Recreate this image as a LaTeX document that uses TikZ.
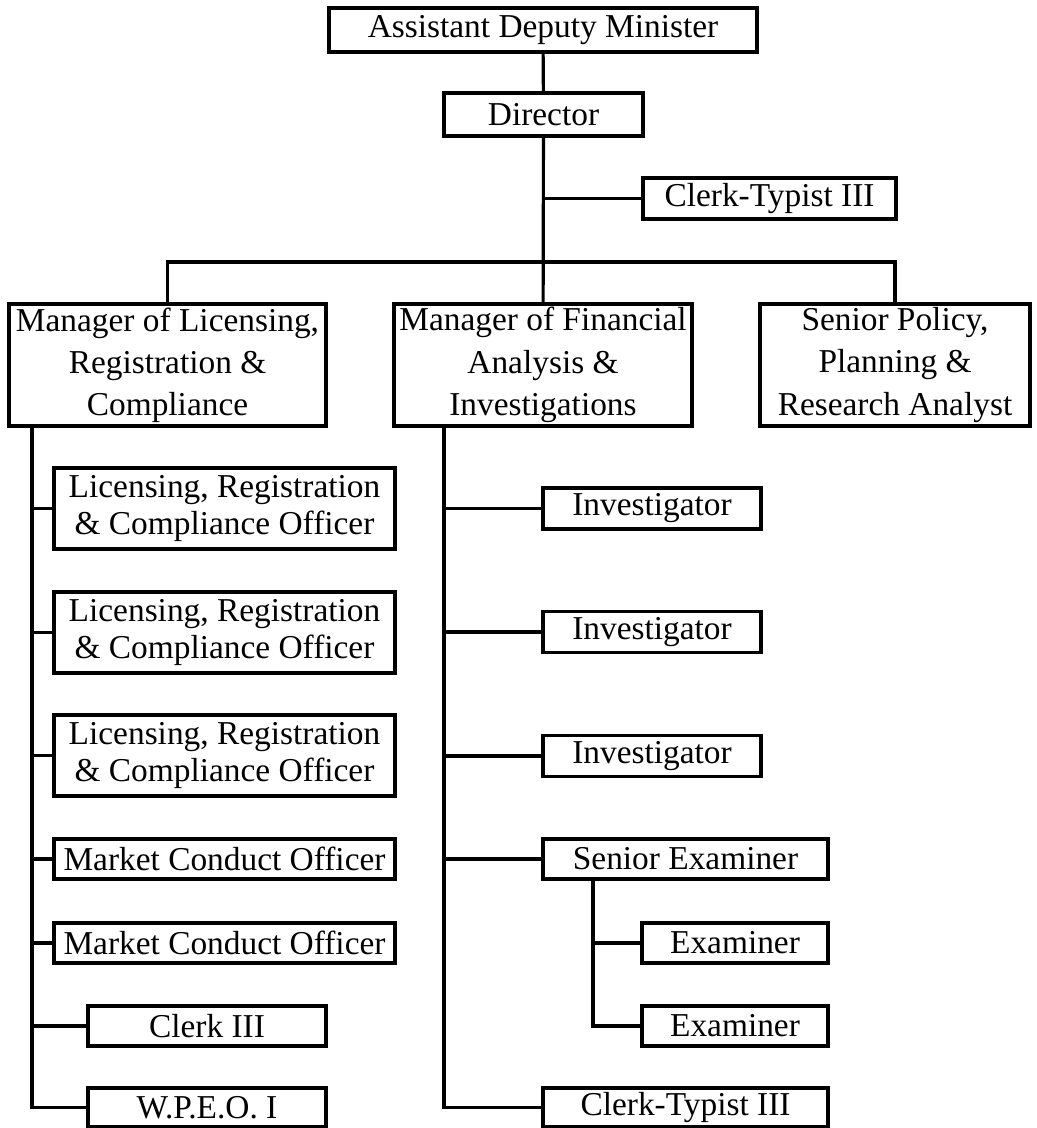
\documentclass[tikz,border=0pt]{standalone}
\usepackage{fontspec}
\setmainfont{Liberation Serif}
\usetikzlibrary{positioning}

\begin{document}
\begin{tikzpicture}[
    x=0.02cm, y=-0.02cm,
    post/.style={draw, line width=1.8pt, inner sep=0pt, align=center,
                 font=\fontsize{19}{21}\selectfont, minimum height=0.8cm},
    manager/.style={post, font=\fontsize{19}{24}\selectfont, minimum height=2.44cm},
    officer/.style={post, minimum width=6.82cm, minimum height=1.62cm},
    link/.style={draw, line width=1.8pt}
]

% Page frame
\useasboundingbox (0,0) rectangle (1036,1128);

% Top levels
\node[post, minimum width=8.56cm, minimum height=0.88cm] (adm) at (543,30) {Assistant Deputy Minister};
\node[post, minimum width=3.98cm, minimum height=0.86cm] (dir) at (543.5,114.5) {Director};
\node[post, minimum width=5.06cm, minimum height=0.82cm] (ct1) at (769.5,198.5) {Clerk-Typist III};

% Managers
\node[manager, minimum width=6.34cm] (mgrL) at (167.5,365) {Manager of Licensing,\\Registration \&\\Compliance};
\node[manager, minimum width=5.96cm] (mgrF) at (543,365) {Manager of Financial\\Analysis \&\\Investigations};
\node[manager, minimum width=5.4cm] (spa) at (895,365) {Senior Policy,\\Planning \&\\Research Analyst};

% Licensing branch
\node[officer] (lrc1) at (224.5,508.5) {Licensing, Registration\\\& Compliance Officer};
\node[officer] (lrc2) at (224.5,632.5) {Licensing, Registration\\\& Compliance Officer};
\node[officer] (lrc3) at (224.5,755.5) {Licensing, Registration\\\& Compliance Officer};
\node[post, minimum width=6.82cm] (mco1) at (224.5,859) {Market Conduct Officer};
\node[post, minimum width=6.82cm] (mco2) at (224.5,943) {Market Conduct Officer};
\node[post, minimum width=4.76cm] (clk) at (207,1026) {Clerk III};
\node[post, minimum width=4.76cm, minimum height=0.78cm] (wpeo) at (207,1107.5) {W.P.E.O. I};

% Financial branch
\node[post, minimum width=4.36cm, minimum height=0.82cm] (inv1) at (652,508.5) {Investigator};
\node[post, minimum width=4.36cm, minimum height=0.82cm] (inv2) at (652,632) {Investigator};
\node[post, minimum width=4.36cm, minimum height=0.82cm] (inv3) at (652,756) {Investigator};
\node[post, minimum width=5.7cm] (sex) at (685.5,859) {Senior Examiner};
\node[post, minimum width=3.72cm] (ex1) at (735,943) {Examiner};
\node[post, minimum width=3.72cm] (ex2) at (735,1026) {Examiner};
\node[post, minimum width=5.7cm, minimum height=0.78cm] (ct2) at (685.5,1107.5) {Clerk-Typist III};

% Spine points
\coordinate (bus) at (543,262);
\coordinate (lspine) at (32,426);
\coordinate (mspine) at (444,426);
\coordinate (sspine) at (593,879);

% Connections
\draw[link] (adm) -- (dir);
\draw[link] (dir) -- (mgrF);
\draw[link] (ct1.west) -- (ct1.west -| dir);
\draw[link] (mgrL.north) |- (bus) -| (spa.north);

\draw[link] (lspine) |- (wpeo.west);
\foreach \n in {lrc1,lrc2,lrc3,mco1,mco2,clk} {
    \draw[link] (\n.west) -- (\n.west -| lspine);
}

\draw[link] (mspine) |- (ct2.west);
\foreach \n in {inv1,inv2,inv3,sex} {
    \draw[link] (\n.west) -- (\n.west -| mspine);
}

\draw[link] (sspine) |- (ex2.west);
\draw[link] (ex1.west) -- (ex1.west -| sspine);

\end{tikzpicture}
\end{document}
